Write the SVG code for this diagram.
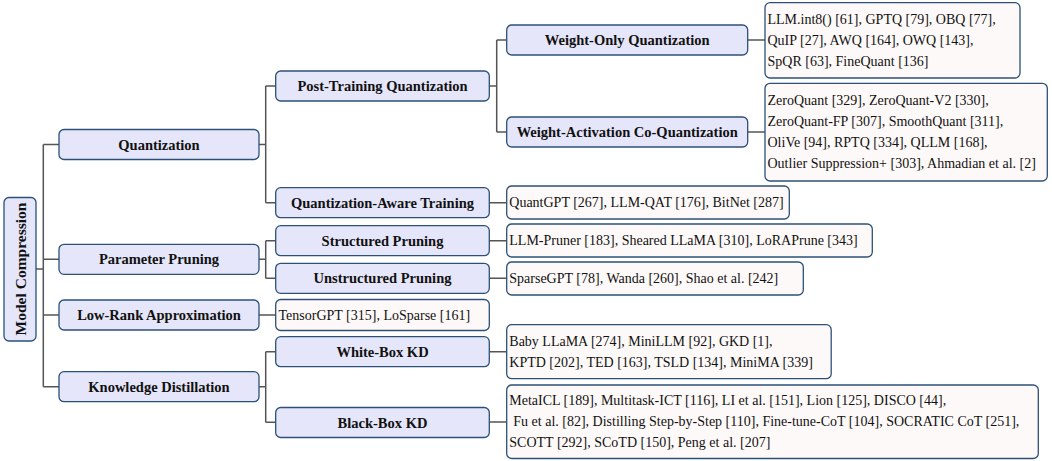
<svg xmlns="http://www.w3.org/2000/svg" width="1052" height="461" viewBox="0 0 1052 461">
<style>
  .n rect { fill: #E5E6FA; stroke: #2C5078; stroke-width: 1.3; }
  .l rect { fill: #FEF9F9; stroke: #2C5078; stroke-width: 1.3; }
  .n text { font-family: "Liberation Serif", "Times New Roman", serif; font-weight: bold; font-size: 14.5px; fill: #111; text-anchor: middle; dominant-baseline: central; }
  .l text { font-family: "Liberation Serif", "Times New Roman", serif; font-size: 14px; fill: #111; dominant-baseline: central; }
  #connectors path { fill: none; stroke: #555; stroke-width: 1.5; }
</style>
<rect width="1052" height="461" fill="#fff"/>
<g id="connectors">
  <path d="M36 269 H43.3 M43.3 144.5 V386.7 M43.3 144.5 H59 M43.3 259.3 H59 M43.3 315 H59 M43.3 386.7 H59"/>
  <path d="M259 144.5 H265.7 M265.7 86 V202.7 M265.7 86 H275.7 M265.7 202.7 H275.7"/>
  <path d="M259 259.3 H265.7 M265.7 240.7 V278.3 M265.7 240.7 H275.7 M265.7 278.3 H275.7"/>
  <path d="M259 315 H275.7"/>
  <path d="M259 386.7 H265.7 M265.7 351.7 V422.3 M265.7 351.7 H275.7 M265.7 422.3 H275.7"/>
  <path d="M489.3 86 H496.7 M496.7 40 V132 M496.7 40 H506.7 M496.7 132 H506.7"/>
  <path d="M489.3 202.7 H506.7 M489.3 240.7 H506.7 M489.3 278.3 H506.7 M489.3 351.7 H506.7 M489.3 422 H506.7"/>
  <path d="M747.7 40 H765 M747.7 132 H765"/>
</g>
<g id="root" class="n">
  <rect x="4" y="197.5" width="32" height="143.5" rx="5"/>
  <text x="20" y="269" transform="rotate(-90 20 269)" style="font-size:15.5px">Model Compression</text>
</g>
<g id="quantization" class="n">
  <rect x="59" y="129.5" width="200" height="30" rx="5"/>
  <text x="159" y="144.5">Quantization</text>
</g>
<g id="parameter-pruning" class="n">
  <rect x="59" y="244.3" width="200" height="30" rx="5"/>
  <text x="159" y="259.3">Parameter Pruning</text>
</g>
<g id="low-rank" class="n">
  <rect x="59" y="300" width="200" height="30" rx="5"/>
  <text x="159" y="315">Low-Rank Approximation</text>
</g>
<g id="knowledge-distillation" class="n">
  <rect x="59" y="371.7" width="200" height="30" rx="5"/>
  <text x="159" y="386.7">Knowledge Distillation</text>
</g>
<g id="ptq" class="n">
  <rect x="275.7" y="71" width="213.6" height="30" rx="5"/>
  <text x="382.5" y="86">Post-Training Quantization</text>
</g>
<g id="qat" class="n">
  <rect x="275.7" y="187.7" width="213.6" height="30" rx="5"/>
  <text x="382.5" y="202.7">Quantization-Aware Training</text>
</g>
<g id="structured" class="n">
  <rect x="275.7" y="225.7" width="213.6" height="30" rx="5"/>
  <text x="382.5" y="240.7">Structured Pruning</text>
</g>
<g id="unstructured" class="n">
  <rect x="275.7" y="263.3" width="213.6" height="30" rx="5"/>
  <text x="382.5" y="278.3">Unstructured Pruning</text>
</g>
<g id="lr-leaf" class="l">
  <rect x="275.7" y="299.5" width="213.6" height="31" rx="5"/>
  <text x="278.5" y="315">TensorGPT [315], LoSparse [161]</text>
</g>
<g id="white-box" class="n">
  <rect x="275.7" y="336.7" width="213.6" height="30" rx="5"/>
  <text x="382.5" y="351.7">White-Box KD</text>
</g>
<g id="black-box" class="n">
  <rect x="275.7" y="407.5" width="213.6" height="30" rx="5"/>
  <text x="382.5" y="422.5">Black-Box KD</text>
</g>
<g id="weight-only" class="n">
  <rect x="506.7" y="25" width="241" height="30" rx="5"/>
  <text x="627.2" y="40">Weight-Only Quantization</text>
</g>
<g id="weight-activation" class="n">
  <rect x="506.7" y="117" width="241" height="30" rx="5"/>
  <text x="627.2" y="132">Weight-Activation Co-Quantization</text>
</g>
<g id="qat-leaf" class="l">
  <rect x="506.7" y="186" width="282.6" height="33" rx="5"/>
  <text x="509.3" y="202.7">QuantGPT [267], LLM-QAT [176], BitNet [287]</text>
</g>
<g id="structured-leaf" class="l">
  <rect x="506.7" y="224" width="365.6" height="33" rx="5"/>
  <text x="509.3" y="240.7">LLM-Pruner [183], Sheared LLaMA [310], LoRAPrune [343]</text>
</g>
<g id="unstructured-leaf" class="l">
  <rect x="506.7" y="262" width="296.6" height="33" rx="5"/>
  <text x="509.3" y="278.5">SparseGPT [78], Wanda [260], Shao et al. [242]</text>
</g>
<g id="white-box-leaf" class="l">
  <rect x="506.7" y="324.7" width="324.5" height="54" rx="5"/>
  <text x="509.3" y="341.3">Baby LLaMA [274], MiniLLM [92], GKD [1],</text>
  <text x="509.3" y="362.3">KPTD [202], TED [163], TSLD [134], MiniMA [339]</text>
</g>
<g id="black-box-leaf" class="l">
  <rect x="506.7" y="385" width="531.6" height="73.5" rx="5"/>
  <text x="509.3" y="400.7">MetaICL [189], Multitask-ICT [116], LI et al. [151], Lion [125], DISCO [44],</text>
  <text x="513.3" y="421.5">Fu et al. [82], Distilling Step-by-Step [110], Fine-tune-CoT [104], SOCRATIC CoT [251],</text>
  <text x="509.3" y="442.5">SCOTT [292], SCoTD [150], Peng et al. [207]</text>
</g>
<g id="weight-only-leaf" class="l">
  <rect x="765" y="2.7" width="255" height="75.3" rx="5"/>
  <text x="767.5" y="19.5">LLM.int8() [61], GPTQ [79], OBQ [77],</text>
  <text x="767.5" y="40.3">QuIP [27], AWQ [164], OWQ [143],</text>
  <text x="767.5" y="61">SpQR [63], FineQuant [136]</text>
</g>
<g id="weight-activation-leaf" class="l">
  <rect x="765" y="83.3" width="282.3" height="97.7" rx="5"/>
  <text x="767.5" y="100.5">ZeroQuant [329], ZeroQuant-V2 [330],</text>
  <text x="767.5" y="121.5">ZeroQuant-FP [307], SmoothQuant [311],</text>
  <text x="767.5" y="142.5">OliVe [94], RPTQ [334], QLLM [168],</text>
  <text x="767.5" y="163.5">Outlier Suppression+ [303], Ahmadian et al. [2]</text>
</g>
</svg>
